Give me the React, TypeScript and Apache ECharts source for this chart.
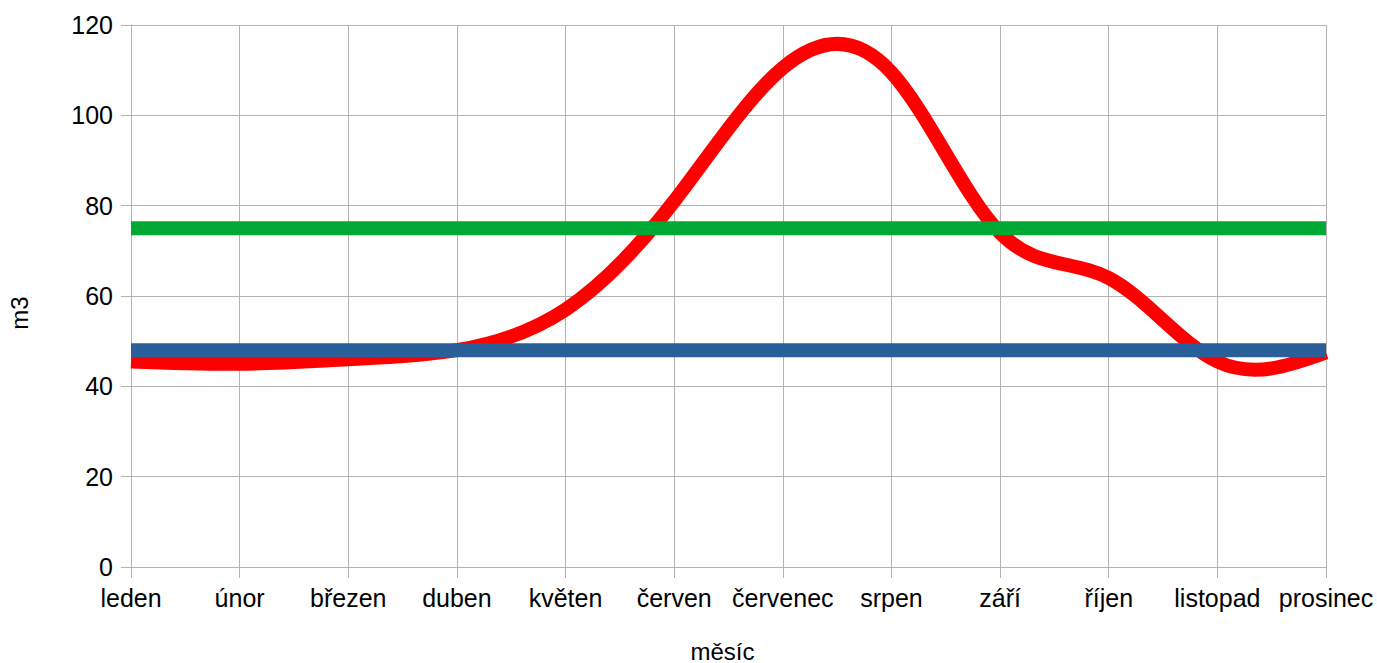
import React, { useEffect, useRef } from "react";
import * as echarts from "echarts";

const months = ["leden", "únor", "březen", "duben", "květen", "červen", "červenec", "srpen", "září", "říjen", "listopad", "prosinec"];
const consumption = [45.5, 45, 46, 48, 57, 81, 110.5, 109.5, 74, 64, 45.5, 47.5];
const limitValues = [75, 75, 75, 75, 75, 75, 75, 75, 75, 75, 75, 75];
const averageValues = [48, 48, 48, 48, 48, 48, 48, 48, 48, 48, 48, 48];

const FONT = "Liberation Sans, Arial, sans-serif";
const GRID_COLOR = "#b3b3b3";

// Natural cubic spline through pixel points -> SVG path with Bezier segments
function splinePath(pts: number[][]): string {
  const n = pts.length;
  if (n < 2) return "";
  const x = pts.map((p) => p[0]);
  const y = pts.map((p) => p[1]);
  const h: number[] = [];
  for (let i = 0; i < n - 1; i++) h.push(x[i + 1] - x[i]);
  const M = new Array(n).fill(0);
  const a: number[] = new Array(n).fill(0);
  const b: number[] = new Array(n).fill(1);
  const c: number[] = new Array(n).fill(0);
  const d: number[] = new Array(n).fill(0);
  for (let i = 1; i < n - 1; i++) {
    a[i] = h[i - 1];
    b[i] = 2 * (h[i - 1] + h[i]);
    c[i] = h[i];
    d[i] = 6 * ((y[i + 1] - y[i]) / h[i] - (y[i] - y[i - 1]) / h[i - 1]);
  }
  const cp = new Array(n).fill(0);
  const dp = new Array(n).fill(0);
  cp[0] = c[0] / b[0];
  dp[0] = d[0] / b[0];
  for (let i = 1; i < n; i++) {
    const m = b[i] - a[i] * cp[i - 1];
    cp[i] = c[i] / m;
    dp[i] = (d[i] - a[i] * dp[i - 1]) / m;
  }
  M[n - 1] = dp[n - 1];
  for (let i = n - 2; i >= 0; i--) M[i] = dp[i] - cp[i] * M[i + 1];
  let path = `M${x[0]},${y[0]}`;
  for (let i = 0; i < n - 1; i++) {
    const hi = h[i];
    const m0 = (y[i + 1] - y[i]) / hi - (hi * (2 * M[i] + M[i + 1])) / 6;
    const m1 = (y[i + 1] - y[i]) / hi + (hi * (M[i] + 2 * M[i + 1])) / 6;
    const c1x = x[i] + hi / 3;
    const c1y = y[i] + (m0 * hi) / 3;
    const c2x = x[i + 1] - hi / 3;
    const c2y = y[i + 1] - (m1 * hi) / 3;
    path += ` C${c1x},${c1y} ${c2x},${c2y} ${x[i + 1]},${y[i + 1]}`;
  }
  return path;
}

export default function App() {
  const ref = useRef<HTMLDivElement>(null);
  useEffect(() => {
    if (!ref.current) return;
    const chart = echarts.init(ref.current, undefined, { renderer: "svg" });
    chart.setOption({
      animation: false,
      textStyle: { fontFamily: FONT },
      grid: { left: 131, right: 51, top: 25, bottom: 96, containLabel: false, outerBoundsMode: "none" },
      xAxis: {
        type: "category",
        data: months,
        boundaryGap: false,
        name: "měsíc",
        nameLocation: "middle",
        nameGap: 72,
        nameTextStyle: { fontSize: 24, color: "#000", fontFamily: FONT, padding: [0, 12, 0, 0] },
        axisLine: { show: true, lineStyle: { color: GRID_COLOR, width: 1 } },
        axisTick: { show: true, length: 11, lineStyle: { color: GRID_COLOR } },
        axisLabel: { fontSize: 25, color: "#000", fontFamily: FONT, margin: 18, interval: 0 },
        splitLine: { show: true, lineStyle: { color: GRID_COLOR, width: 1 } },
      },
      yAxis: {
        type: "value",
        min: 0,
        max: 120,
        interval: 20,
        name: "m3",
        nameLocation: "middle",
        nameGap: 100,
        nameRotate: 90,
        nameTextStyle: { fontSize: 24, color: "#000", fontFamily: FONT, padding: [0, 34, 0, 0] },
        axisLine: { show: true, lineStyle: { color: GRID_COLOR, width: 1 } },
        axisTick: { show: true, length: 10, lineStyle: { color: GRID_COLOR } },
        axisLabel: { fontSize: 25, color: "#000", fontFamily: FONT, margin: 18 },
        splitLine: { show: true, lineStyle: { color: GRID_COLOR, width: 1 } },
      },
      series: [
        {
          name: "spotřeba",
          type: "custom",
          data: consumption.map((v, i) => [i, v]),
          encode: { x: 0, y: 1 },
          clip: false,
          z: 2,
          renderItem: (params: any, api: any) => {
            if (params.dataIndex !== 0) return null;
            const pts = consumption.map((v, i) => api.coord([i, v]));
            return {
              type: "path",
              shape: { pathData: splinePath(pts) },
              style: { stroke: "#ff0000", lineWidth: 14, fill: "none", lineJoin: "round" },
            };
          },
        },
        {
          name: "limit",
          type: "line",
          data: limitValues,
          showSymbol: false,
          symbol: "none",
          lineStyle: { color: "#00a933", width: 14, cap: "butt" },
          z: 3,
        },
        {
          name: "průměr",
          type: "line",
          data: averageValues,
          showSymbol: false,
          symbol: "none",
          lineStyle: { color: "#2a6099", width: 14, cap: "butt" },
          z: 4,
        },
      ],
    });
    return () => chart.dispose();
  }, []);
  return <div ref={ref} style={{ width: 1377, height: 663, position: "absolute", left: 0, top: 0 }} />;
}
